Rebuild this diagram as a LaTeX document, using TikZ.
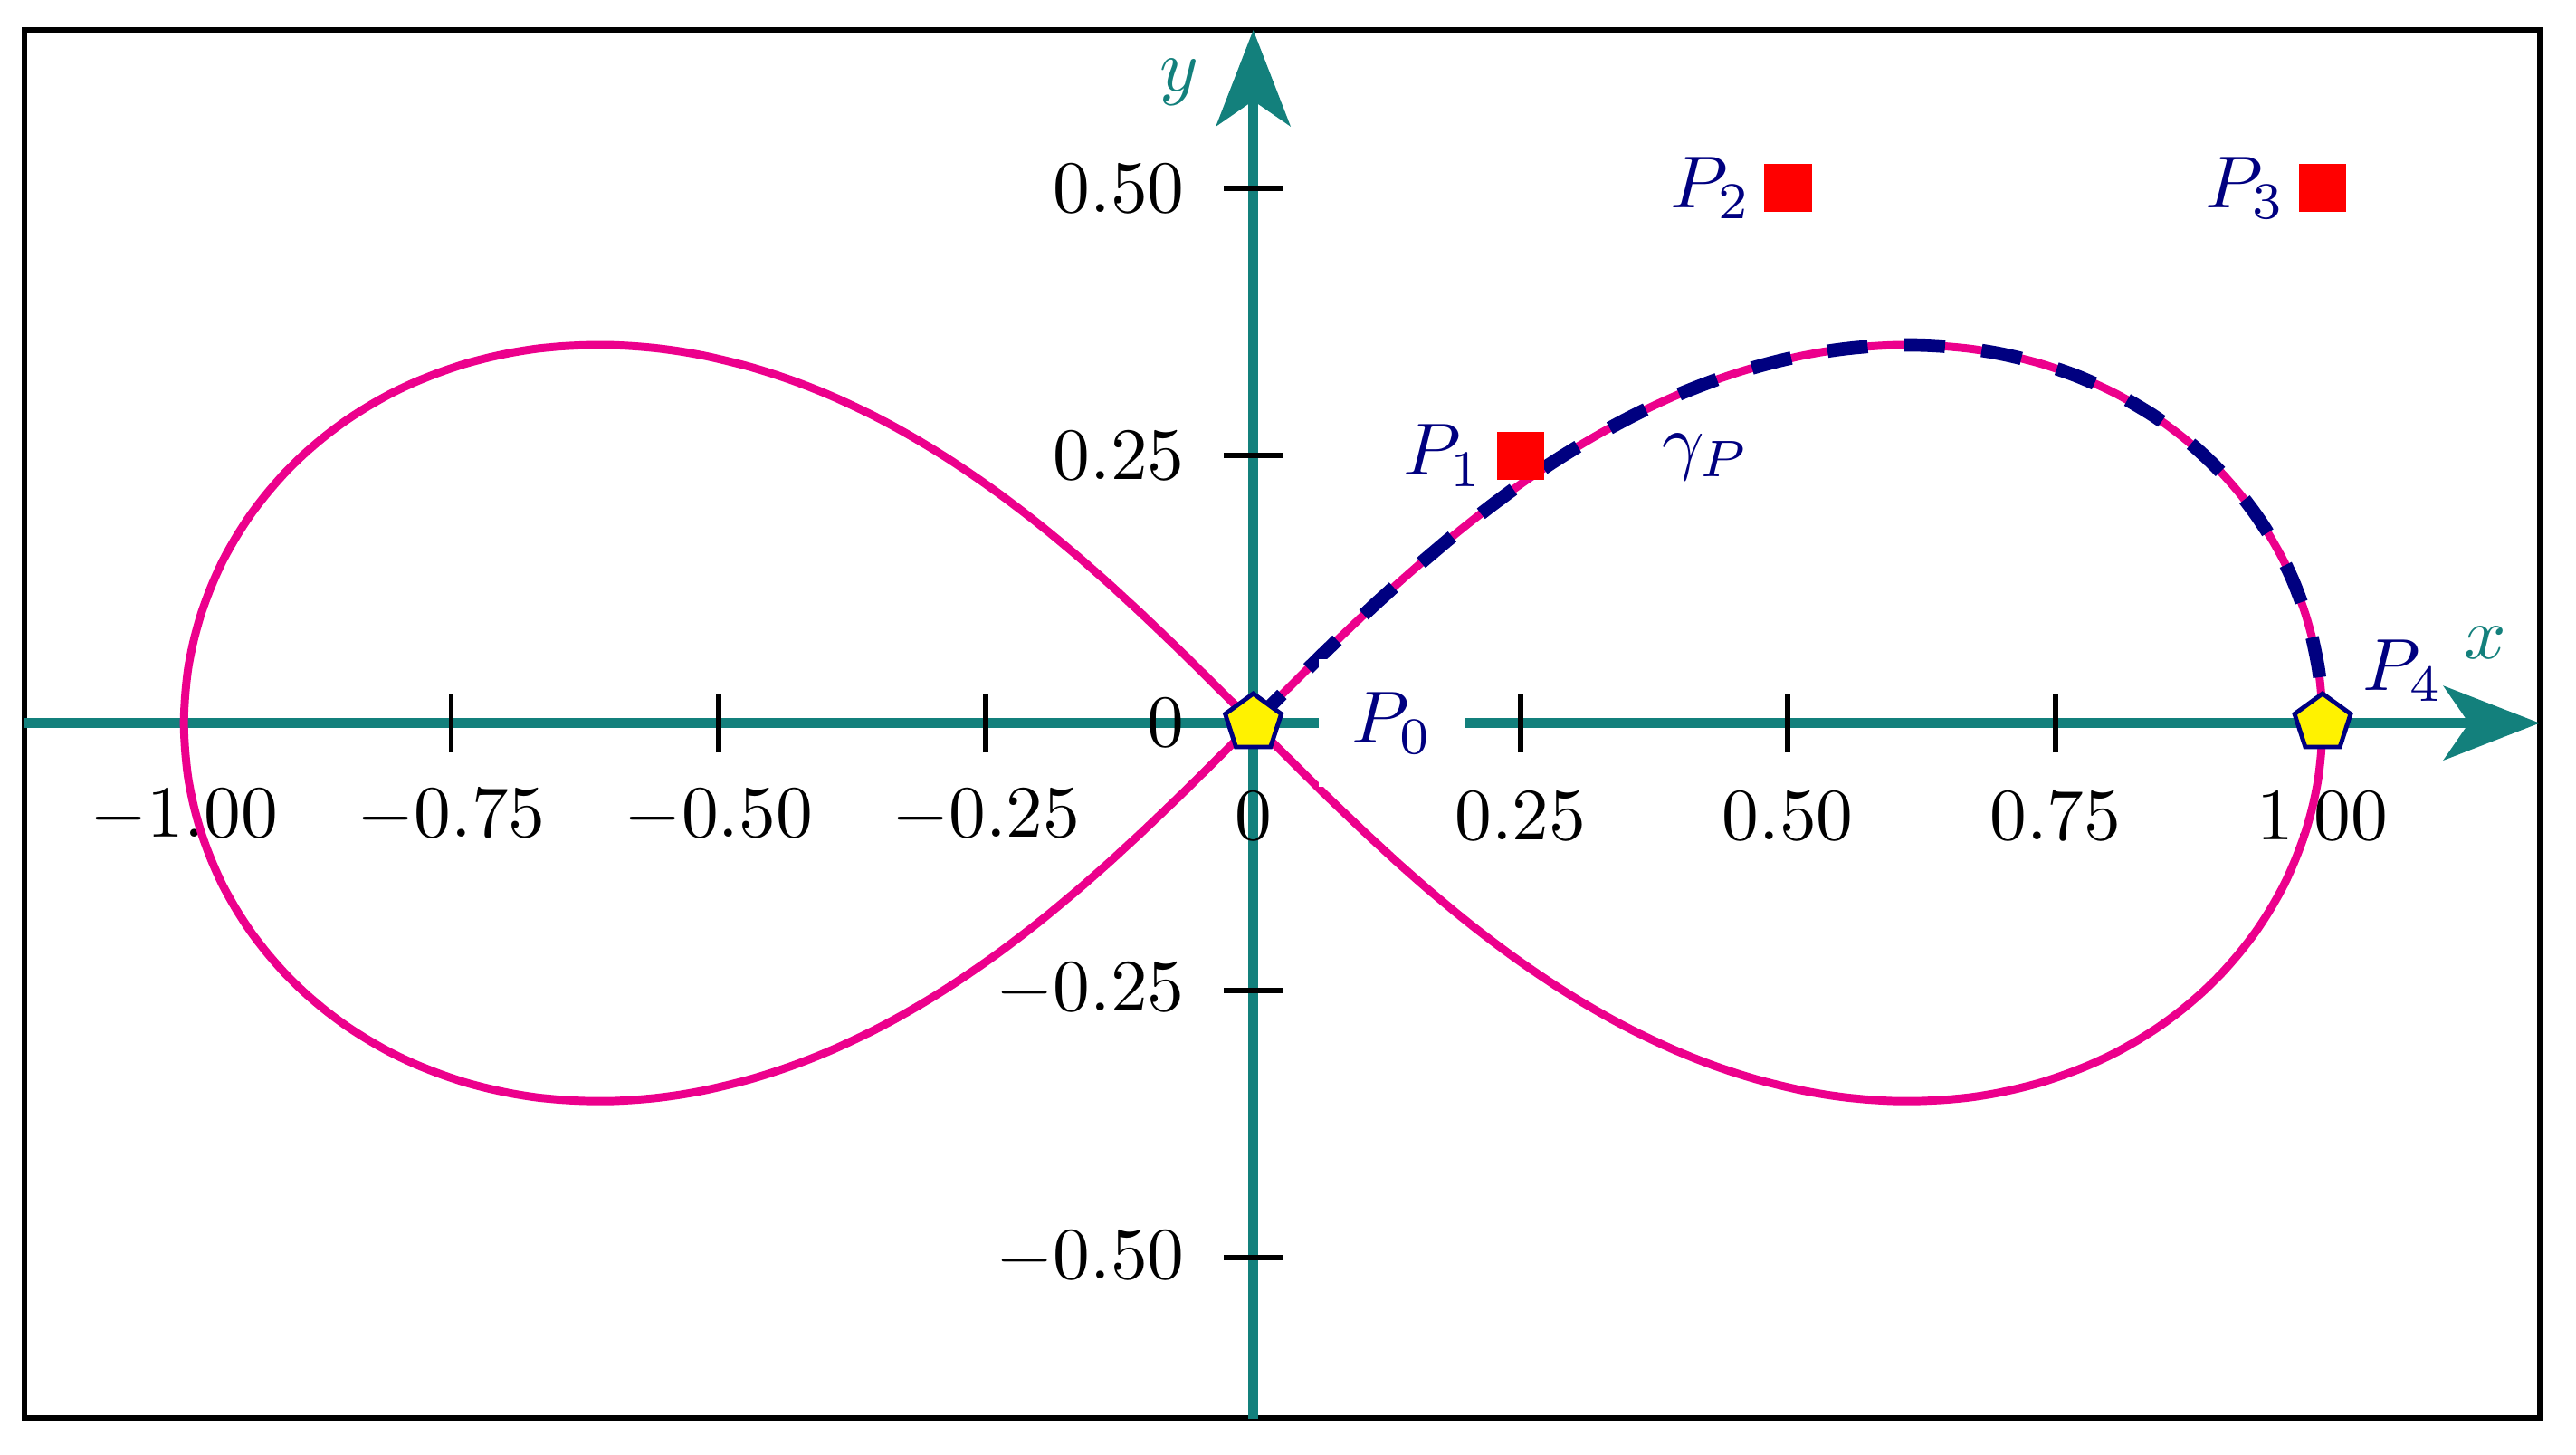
\documentclass[tikz,border=0pt]{standalone}
\usetikzlibrary{
  arrows.meta,
  positioning,
  shapes.geometric
}
\usepackage{xcolor}
\definecolor{axisTeal}{RGB}{19,128,124}
\definecolor{curvePink}{RGB}{236,0,140}
\definecolor{pointNavy}{RGB}{0,0,128}
\definecolor{markYellow}{RGB}{255,242,0}
\definecolor{markRed}{RGB}{255,0,0}
\tikzset{
  ctrl point/.style={
    fill=markRed,
    inner sep = 0pt,
    minimum size = 6.5pt
  },
  end point/.style={
    regular polygon,
    regular polygon sides=5,
    fill=markYellow,
    draw=pointNavy,
    line width=0.6pt,
    inner sep = 0pt,
    minimum size = 8pt
  },
  point label/.style={
    text=pointNavy
  }
}

\begin{document}
\begin{tikzpicture}[
      x=5.1cm, y=5.1cm,
      >={Stealth[length=13pt, width=10pt, inset=3.4pt]},
      axis/.style={axisTeal, line width=1.4pt},
      tickmark/.style={black, line width=0.7pt},
      lemniscate/.style={curvePink, line width=1.1pt},
      bezier part/.style={pointNavy, line width=1.8pt, dash pattern=on 5.5pt off 5pt}
      ]

      \useasboundingbox (-1.172,-0.684) rectangle (1.237,0.676);
      \draw[line width=0.8pt] (-1.149,-0.650) rectangle (1.203,0.648);

      % axes
      \coordinate (xstart) at (-1.149,0);
      \coordinate (xend) at (1.203,0);
      \coordinate (ystart) at (0,-0.650);
      \coordinate (yend) at (0,0.648);
      \draw[axis, ->] (xstart) -- (xend);
      \draw[axis, ->] (ystart) -- (yend);
      \node[text=axisTeal] (xlabel) at (1.152,0.075) {$x$};
      \node[text=axisTeal] (ylabel) at (-0.069,0.599) {$y$};

      \foreach \v/\t in {-1/-1.00, -0.75/-0.75, -0.5/-0.50, -0.25/-0.25,
                         0.25/0.25, 0.5/0.50, 0.75/0.75, 1/1.00}{
        \draw[tickmark] (\v,0) ++(0,-4pt) -- ++(0,8pt);
        \node (xtick\t) at (\v,-0.087) {$\t$};
      }
      \node (xtick0) at (0,-0.087) {$0$};

      \foreach \v/\t in {-0.5/-0.50, -0.25/-0.25, 0.25/0.25, 0.5/0.50}{
        \draw[tickmark] (0,\v) ++(-4pt,0) -- ++(8pt,0);
        \node[anchor=east, inner sep=0pt] (ytick\t) at (-0.063,\v) {$\t$};
      }
      \node[anchor=east, inner sep=0pt] (ytick0) at (-0.063,0) {$0$};

      % curve and its upper right part
      \draw[lemniscate] plot[domain=0:360, samples=241, smooth, variable=\a]
        ({cos(\a)/(1+sin(\a)^2)}, {sin(\a)*cos(\a)/(1+sin(\a)^2)});
      \draw[bezier part] plot[domain=90:0, samples=91, smooth, variable=\a]
        ({cos(\a)/(1+sin(\a)^2)}, {sin(\a)*cos(\a)/(1+sin(\a)^2)});

      \node[ctrl point, label={[point label, label distance=-2pt]left:$P_1$}] (p1) at (0.25,0.25) {};
      \node[ctrl point, label={[point label, label distance=-2pt]left:$P_2$}] (p2) at (0.5,0.5) {};
      \node[ctrl point, label={[point label, label distance=-2pt]left:$P_3$}] (p3) at (1,0.5) {};

      \node[end point] (p0) at (0,0) {};
      \node[end point] (p4) at (1,0) {};

      \node[point label, fill=white, inner sep=4.5pt, right=5pt of p0] (l0) {$P_0$};
      \node[point label] (l4) at (1.075,0.049) {$P_4$};
      \node[point label] (gamma) at (0.423,0.249) {$\gamma_P$};
    \end{tikzpicture}
\end{document}
